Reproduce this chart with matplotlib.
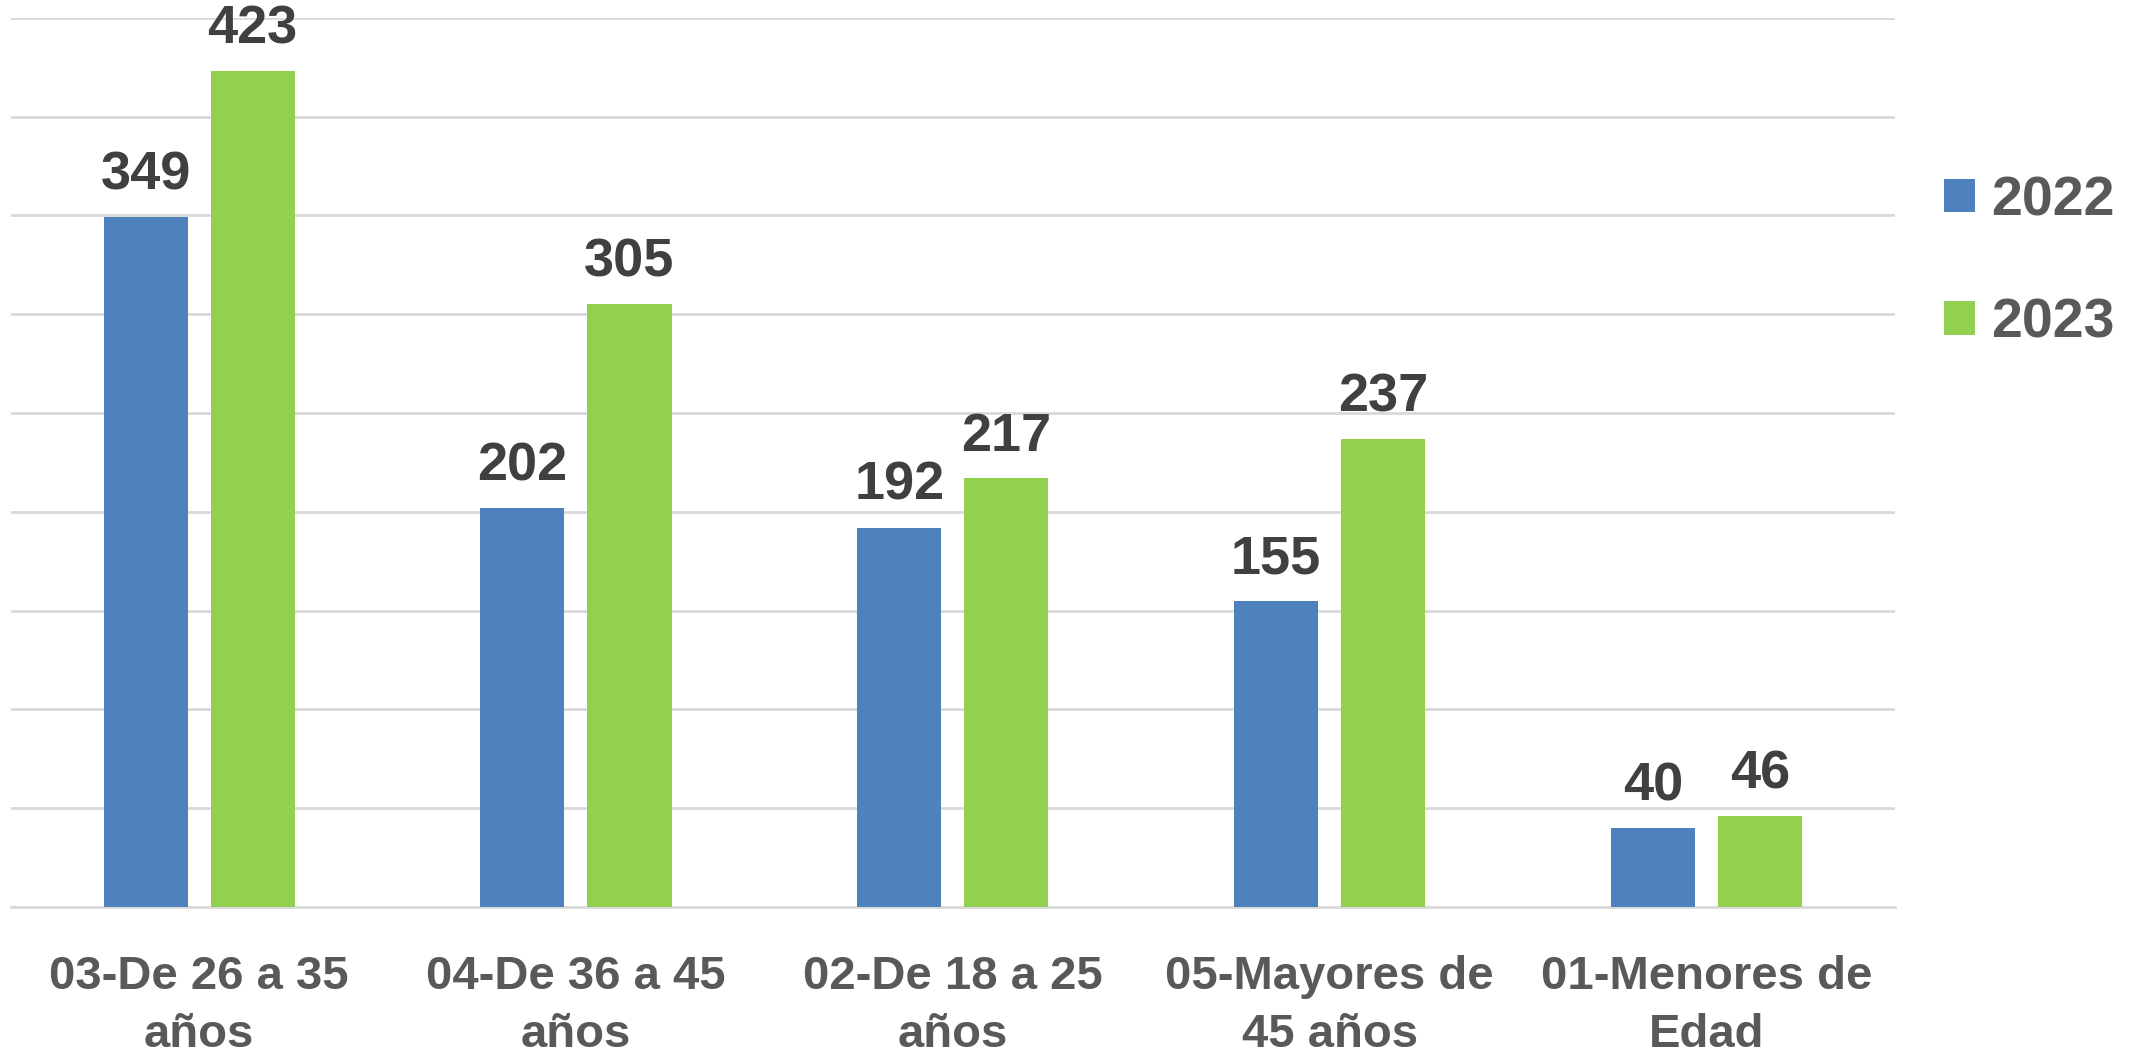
import numpy as np
import matplotlib

matplotlib.use('Agg')
import matplotlib.pyplot as plt

plt.rcParams['font.family'] = ['Liberation Sans', 'DejaVu Sans']
plt.rcParams['font.weight'] = 'bold'

# Age groups and counts per year
categories = ['03-De 26 a 35\naños', '04-De 36 a 45\naños', '02-De 18 a 25\naños',
              '05-Mayores de\n45 años', '01-Menores de\nEdad']
series_names = ['2022', '2023']
values_2022 = [349, 202, 192, 155, 40]
values_2023 = [423, 305, 217, 237, 46]

BLUE = '#4f81bd'
GREEN = '#92d050'
GRID = '#d9d9d9'
LABEL_COLOR = '#595959'
VALUE_COLOR = '#404040'

BAR_W = 0.223
OFFSET = 0.142

fig = plt.figure(figsize=(21.46, 10.53), dpi=100)
ax = fig.add_axes([0.005, 0.1387, 0.878, 0.8443])

x = np.arange(len(categories))
bars_a = ax.bar(x - OFFSET, values_2022, BAR_W, color=BLUE, label=series_names[0], zorder=3)
bars_b = ax.bar(x + OFFSET, values_2023, BAR_W, color=GREEN, label=series_names[1], zorder=3)

for bars in (bars_a, bars_b):
    ax.bar_label(bars, padding=12, fontsize=39, fontweight='bold', color=VALUE_COLOR)

ax.set_xlim(-0.5, len(categories) - 0.5)
ax.set_ylim(0, 450)
ax.set_yticks(np.arange(0, 451, 50))
ax.yaxis.grid(True, color=GRID, linewidth=2, zorder=0)
ax.tick_params(axis='y', left=False, labelleft=False)
ax.tick_params(axis='x', bottom=False, pad=31)
ax.set_xticks(x)
ax.set_xticklabels(categories, fontsize=34, fontweight='bold', color=LABEL_COLOR,
                   linespacing=1.42)
for side in ('top', 'right', 'left'):
    ax.spines[side].set_visible(False)
ax.spines['bottom'].set_color(GRID)
ax.spines['bottom'].set_linewidth(2)

leg = fig.legend(handles=[bars_a, bars_b], loc='center left', bbox_to_anchor=(0.906, 0.7508),
                 frameon=False, handlelength=0.55, handleheight=0.55,
                 handletextpad=0.3, labelspacing=1.27, borderpad=0, borderaxespad=0,
                 prop={'weight': 'bold', 'size': 40})
for t in leg.get_texts():
    t.set_color(LABEL_COLOR)

fig.savefig('out.png', dpi=100)
